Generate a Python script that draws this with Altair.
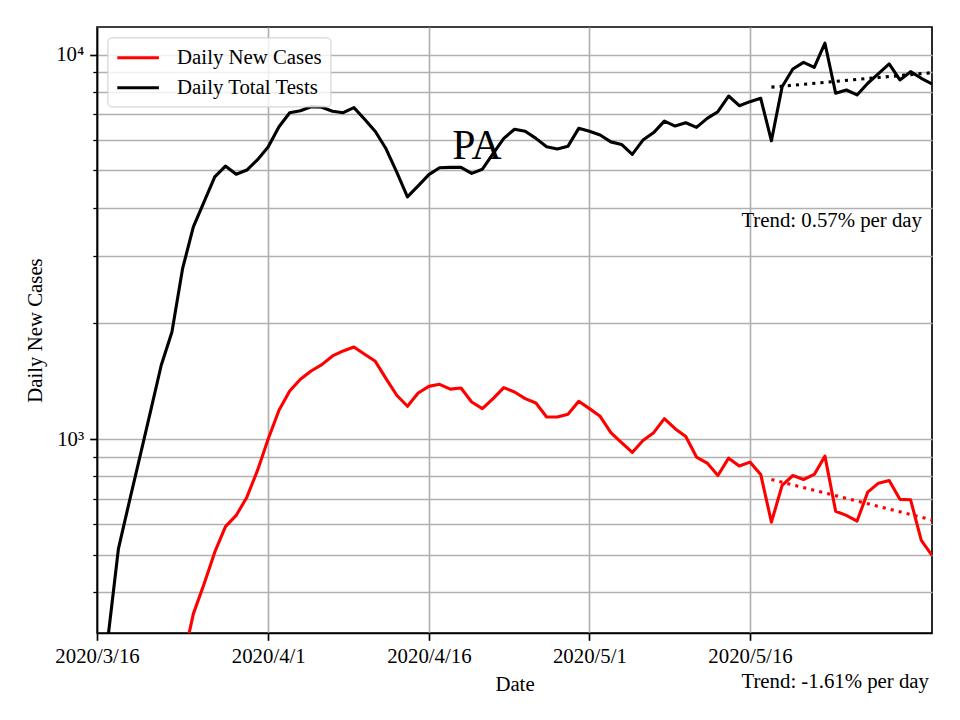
import altair as alt
import pandas as pd

# ---- data ----
start_date = "2020-03-16"
tests = [150, 300, 518, 684, 897, 1181, 1556, 1900, 2780, 3565, 4140, 4808, 5130, 4885,
         5010, 5330, 5757, 6494, 7063, 7146, 7320, 7300, 7123, 7063, 7280, 6790, 6310,
         5690, 4945, 4266, 4557, 4875, 5079, 5090, 5092, 4910, 5035, 5530, 6055, 6395,
         6320, 6055, 5760, 5680, 5780, 6430, 6320, 6180, 5930, 5840, 5504, 5995, 6270,
         6714, 6520, 6650, 6470, 6825, 7105, 7805, 7365, 7545, 7700, 5970, 8253, 9178,
         9550, 9266, 10707, 7935, 8090, 7855, 8425, 8930, 9458, 8593, 9030, 8679, 8388]
cases_start = "2020-03-24"
cases = [262, 351, 420, 508, 592, 633, 706, 830, 1002, 1188, 1334, 1431, 1503, 1562, 1645,
         1695, 1736, 1662, 1593, 1436, 1300, 1217, 1318, 1371, 1388, 1349, 1358, 1249, 1200,
         1274, 1361, 1326, 1274, 1241, 1141, 1141, 1160, 1254, 1200, 1146, 1039, 979, 923,
         992, 1039, 1130, 1064, 1016, 898, 866, 804, 892, 851, 871, 809, 608, 758, 804, 785,
         809, 903, 649, 633, 612, 728, 768, 780, 697, 695, 545, 498]
trend_dates = ["2020-05-18", "2020-06-02"]
tests_trend = [8230, 8975]
cases_trend = [785, 616]
series_names = ["Daily New Cases", "Daily Total Tests"]
series_colors = ["#ff0000", "#000000"]
x_tick_dates = [(2020, 3, 16), (2020, 4, 1), (2020, 4, 16), (2020, 5, 1), (2020, 5, 16)]
y_ticks = [400, 500, 600, 700, 800, 900, 1000, 2000, 3000, 4000, 5000, 6000, 7000,
           8000, 9000, 10000]
y_domain = [313, 11800]
texts = ["PA", "Trend: 0.57% per day", "Trend: -1.61% per day"]

FONT = "Liberation Serif"
FS = 20.8

test_dates = pd.date_range(start_date, periods=len(tests)).strftime("%Y-%m-%d")
case_dates = pd.date_range(cases_start, periods=len(cases)).strftime("%Y-%m-%d")
df = pd.concat([
    pd.DataFrame({"date": case_dates, "value": cases, "series": series_names[0]}),
    pd.DataFrame({"date": test_dates, "value": tests, "series": series_names[1]}),
])
tdf = pd.concat([
    pd.DataFrame({"date": trend_dates, "value": cases_trend, "series": series_names[0]}),
    pd.DataFrame({"date": trend_dates, "value": tests_trend, "series": series_names[1]}),
])

x_enc = alt.X(
    "date:T",
    scale=alt.Scale(type="utc", nice=False,
                    domain=[alt.DateTime(year=2020, month=3, date=16, utc=True),
                            alt.DateTime(year=2020, month=6, date=2, utc=True)]),
    axis=alt.Axis(
        values=[alt.DateTime(year=y, month=m, date=d, utc=True) for y, m, d in x_tick_dates],
        labelExpr="utcFormat(datum.value, '%Y/%-m/%-d')",
        labelFlush=False, labelOverlap=False, labelBound=False,
        labelPadding=6, tickSize=7.3, tickWidth=1.67,
        title="Date", titleY=57, titleBaseline="alphabetic",
    ),
)
y_enc = alt.Y(
    "value:Q",
    scale=alt.Scale(type="log", domain=y_domain, nice=False),
    axis=alt.Axis(
        values=y_ticks,
        labelExpr="datum.value == 1000 ? '10³' : datum.value == 10000 ? '10⁴' : ''",
        labelFlush=False, labelOverlap=False, labelBound=False, labelPadding=6,
        tickSize={"condition": {"test": "datum.value == 1000 || datum.value == 10000",
                                "value": 7.3}, "value": 4.2},
        tickWidth={"condition": {"test": "datum.value == 1000 || datum.value == 10000",
                                 "value": 1.67}, "value": 1.25},
        title="Daily New Cases", titleX=-56, titleY=303, titleAngle=-90,
        titleAlign="center", titleBaseline="alphabetic",
    ),
)
color_enc = alt.Color(
    "series:N",
    scale=alt.Scale(domain=series_names, range=series_colors),
    legend=alt.Legend(
        title=None, orient="none", legendX=10.4, legendY=10.4, padding=8.3,
        symbolType="M-1,0H3", symbolSize=432.6, symbolStrokeWidth=3.1,
        labelOffset=37.4, rowPadding=8,
        labelFont=FONT, labelFontSize=FS, labelColor="black",
        strokeColor="#cccccc", fillColor="rgba(255,255,255,0.8)", cornerRadius=4,
    ),
)

lines = alt.Chart(df).mark_line(clip=True, strokeWidth=3.1, strokeJoin="round").encode(
    x=x_enc, y=y_enc, color=color_enc,
    order=alt.Order("date:T"),
)
trend = alt.Chart(tdf).mark_line(clip=True, strokeWidth=3.1, strokeDash=[3.1, 5.1]).encode(
    x="date:T", y="value:Q", color=alt.Color("series:N", legend=None),
)

tx = pd.DataFrame({"t": texts})
pa = alt.Chart(tx[tx.t == texts[0]]).mark_text(
    font=FONT, fontSize=41.7, align="center", baseline="alphabetic", color="black"
).encode(text="t:N", x=alt.value(380), y=alt.value(132.3))
tr1 = alt.Chart(tx[tx.t == texts[1]]).mark_text(
    font=FONT, fontSize=FS, align="right", baseline="alphabetic", color="black"
).encode(text="t:N", x=alt.value(825), y=alt.value(200))
tr2 = alt.Chart(tx[tx.t == texts[2]]).mark_text(
    font=FONT, fontSize=FS, align="right", baseline="alphabetic", color="black"
).encode(text="t:N", x=alt.value(832), y=alt.value(661))

chart = alt.layer(lines, trend, pa, tr1, tr2).properties(
    width=835, height=606,
    autosize=alt.AutoSizeParams(type="none"),
    padding={"left": 89, "top": 19, "right": 20, "bottom": 77},
    background="white",
).configure_axis(
    labelFont=FONT, labelFontSize=FS, labelColor="black",
    titleFont=FONT, titleFontSize=FS, titleColor="black", titleFontWeight="normal",
    domainColor="black", domainWidth=1.67, tickColor="black",
    grid=True, gridColor="#b0b0b0", gridWidth=1.67,
).configure_view(
    stroke="black", strokeWidth=1.67,
)

chart.save("out.html", embed_options={"renderer": "svg", "actions": False})
